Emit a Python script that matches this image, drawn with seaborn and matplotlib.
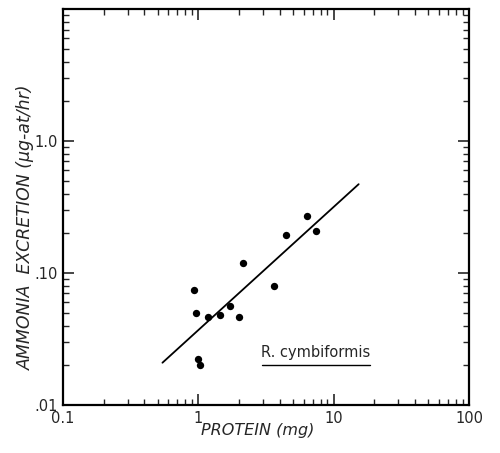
import matplotlib
matplotlib.use("Agg")
import matplotlib.pyplot as plt
import matplotlib.ticker as mticker
import seaborn as sns
import pandas as pd
import numpy as np

# Data
protein_mg = [0.93, 0.955, 1.17, 1.44, 1.71, 2.0, 2.13, 3.61, 4.41, 6.39, 7.38, 1.0, 1.03]
ammonia = [0.0745, 0.0498, 0.0461, 0.0482, 0.0567, 0.0461, 0.120, 0.0792, 0.195, 0.269, 0.207, 0.0223, 0.0201]
fit_x = [0.543, 15.3]
fit_y = [0.0209, 0.471]
x_ticks = [0.1, 1, 10, 100]
x_ticklabels = ["0.1", "1", "10", "100"]
y_ticks = [0.01, 0.1, 1.0, 10]
y_ticklabels = [".01", ".10", "1.0", ""]
species = "R. cymbiformis"

sns.set_style("ticks")
plt.rcParams["font.family"] = ["DejaVu Sans"]
plt.rcParams["xtick.direction"] = "in"
plt.rcParams["ytick.direction"] = "in"

fig = plt.figure(figsize=(5.0, 4.53), dpi=100)
ax = fig.add_axes([0.126, 0.106, 0.812, 0.874])

pts = pd.DataFrame({"protein": protein_mg, "ammonia": ammonia})
fit = pd.DataFrame({"protein": fit_x, "ammonia": fit_y})

sns.lineplot(data=fit, x="protein", y="ammonia", color="black", lw=1.3, ax=ax)
sns.scatterplot(data=pts, x="protein", y="ammonia", color="black", s=28,
                edgecolor="black", linewidth=0, ax=ax, zorder=3)

ax.set_xscale("log")
ax.set_yscale("log")
ax.set_xlim(0.1, 100)
ax.set_ylim(0.01, 10)

ax.set_xticks(x_ticks)
ax.set_xticklabels(x_ticklabels)
ax.set_yticks(y_ticks)
ax.set_yticklabels(y_ticklabels)
ax.xaxis.set_minor_locator(mticker.LogLocator(base=10, subs=np.arange(2, 10)))
ax.yaxis.set_minor_locator(mticker.LogLocator(base=10, subs=np.arange(2, 10)))
ax.xaxis.set_minor_formatter(mticker.NullFormatter())
ax.yaxis.set_minor_formatter(mticker.NullFormatter())

ax.tick_params(which="major", direction="in", length=8, width=1.2,
               top=True, right=True, labelsize=10.5, pad=4)
ax.tick_params(which="minor", direction="in", length=4, width=1,
               top=True, right=True)

for s in ax.spines.values():
    s.set_linewidth(1.6)
    s.set_color("black")

ax.set_xlabel("PROTEIN (mg)", style="italic", fontsize=11.5)
ax.xaxis.set_label_coords(0.48, -0.045)
ax.xaxis.label.set_va("top")
ax.set_ylabel("AMMONIA  EXCRETION (µg-at/hr)", style="italic", fontsize=12.5)
ax.yaxis.set_label_coords(-0.069, 0.449)

ax.text(7.4, 0.025, species, fontsize=10.5, ha="center", va="center")
ax.plot([2.94, 18.7], [0.0201, 0.0201], color="black", lw=1)

fig.savefig("out.png", dpi=100)
